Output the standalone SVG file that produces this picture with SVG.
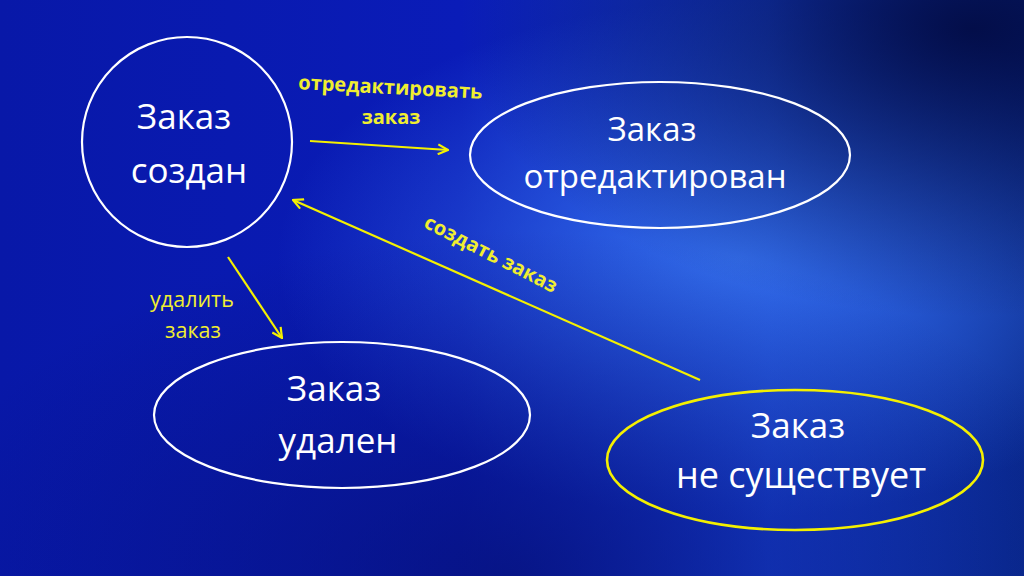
<svg xmlns="http://www.w3.org/2000/svg" width="1024" height="576" viewBox="0 0 1024 576">
<defs>
<linearGradient id="bg" x1="0" y1="0" x2="1" y2="0">
<stop offset="0" stop-color="#0818a8"/>
<stop offset="0.45" stop-color="#0a1cb8"/>
<stop offset="0.75" stop-color="#1844d8"/>
<stop offset="1" stop-color="#0a2a90"/>
</linearGradient>
<radialGradient id="glow" cx="0.72" cy="0.45" r="0.45">
<stop offset="0" stop-color="#3a78f0" stop-opacity="0.8"/>
<stop offset="1" stop-color="#3a78f0" stop-opacity="0"/>
</radialGradient>
<radialGradient id="dark" cx="0.95" cy="0.05" r="0.5">
<stop offset="0" stop-color="#020a40" stop-opacity="0.9"/>
<stop offset="1" stop-color="#020a40" stop-opacity="0"/>
</radialGradient>
<radialGradient id="dark2" cx="0.5" cy="1" r="0.6">
<stop offset="0" stop-color="#050f70" stop-opacity="0.7"/>
<stop offset="1" stop-color="#050f70" stop-opacity="0"/>
</radialGradient>
<marker id="arr" viewBox="0 0 12 12" refX="11" refY="6" markerWidth="12" markerHeight="12" markerUnits="userSpaceOnUse" orient="auto">
<path d="M1,1 L11,6 L1,11" fill="none" stroke="#f4f000" stroke-width="2.2"/>
</marker>
<style>
.node{fill:none;stroke:#ffffff;stroke-width:2.2}
.ytl{fill:none;stroke:#f4f000;stroke-width:2.6}
.lbl{font-family:"Open Sans","Noto Sans",sans-serif;fill:#ffffff;text-anchor:middle}
.yl{font-family:"Open Sans","Noto Sans",sans-serif;fill:#f0ee30;text-anchor:middle}
.conn{stroke:#f4f000;stroke-width:2.2;fill:none;marker-end:url(#arr)}
</style>
</defs>
<rect width="1024" height="576" fill="url(#bg)"/>
<rect width="1024" height="576" fill="url(#glow)"/>
<rect width="1024" height="576" fill="url(#dark)"/>
<rect width="1024" height="576" fill="url(#dark2)"/>

<g id="connectors">
<line class="conn" x1="310" y1="141" x2="448" y2="150"/>
<line class="conn" x1="228" y1="257" x2="282" y2="338"/>
<line class="conn" x1="700" y1="380" x2="293" y2="200"/>
<text class="yl" font-size="20" font-weight="bold" transform="translate(390,94) rotate(3)">отредактировать</text>
<text class="yl" font-size="20" font-weight="bold" x="391" y="124">заказ</text>
<text class="yl" font-size="21.5" x="192" y="307">удалить</text>
<text class="yl" font-size="21.5" x="193" y="338">заказ</text>
<text class="yl" font-size="20" font-weight="bold" transform="translate(488,260) rotate(27)">создать заказ</text>
</g>

<g id="node-created">
<circle class="node" cx="187" cy="142" r="105"/>
<text class="lbl" font-size="35" x="184" y="129">Заказ</text>
<text class="lbl" font-size="35" x="189" y="183">создан</text>
</g>

<g id="node-edited">
<ellipse class="node" cx="660" cy="155" rx="190" ry="73"/>
<text class="lbl" font-size="33" x="652" y="141">Заказ</text>
<text class="lbl" font-size="33" x="655" y="188">отредактирован</text>
</g>

<g id="node-deleted">
<ellipse class="node" cx="342" cy="415" rx="188" ry="73"/>
<text class="lbl" font-size="35" x="334" y="401">Заказ</text>
<text class="lbl" font-size="35" x="338" y="453">удален</text>
</g>

<g id="node-notexist">
<ellipse class="ytl" cx="795" cy="460" rx="188" ry="70"/>
<text class="lbl" font-size="35" x="798" y="438">Заказ</text>
<text class="lbl" font-size="36" x="801" y="488">не существует</text>
</g>
</svg>
